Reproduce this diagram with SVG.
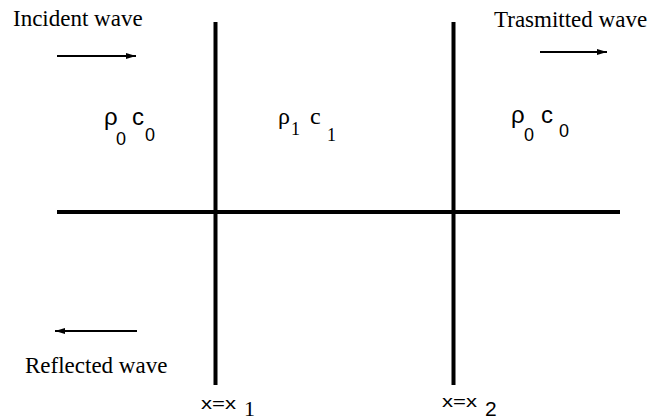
<svg xmlns="http://www.w3.org/2000/svg" width="666" height="420" viewBox="0 0 666 420">
<defs>
<style>
.bar{stroke:#000;stroke-width:4;fill:none}
.arr{stroke:#000;stroke-width:1.8;fill:none}
.lbl{font-family:"Liberation Serif","Times New Roman",serif;font-size:23px;fill:#000}
.sans{font-family:"Liberation Sans",Arial,sans-serif;fill:#000}
.serif{font-family:"Liberation Serif","Times New Roman",serif;fill:#000}
</style>
<marker id="ah" viewBox="0 0 10 6" refX="10" refY="3" markerWidth="10" markerHeight="6" markerUnits="userSpaceOnUse" orient="auto">
<path d="M0,0 L10,3 L0,6 Z" fill="#000"/>
</marker>
</defs>
<rect width="666" height="420" fill="#fff"/>
<g id="connectors">
<line class="bar" x1="215.5" y1="22" x2="215.5" y2="385"/>
<line class="bar" x1="453.5" y1="22" x2="453.5" y2="385"/>
<line class="bar" x1="57" y1="212" x2="620" y2="212"/>
<line class="arr" x1="57" y1="56" x2="136" y2="56" marker-end="url(#ah)"/>
<line class="arr" x1="540" y1="52" x2="607" y2="52" marker-end="url(#ah)"/>
<line class="arr" x1="137" y1="331" x2="55" y2="331" marker-end="url(#ah)"/>
</g>
<g id="incident"><text class="lbl" x="13" y="26">Incident wave</text></g>
<g id="transmitted"><text class="lbl" x="494" y="27">Trasmitted wave</text></g>
<g id="reflected"><text class="lbl" x="25" y="373">Reflected wave</text></g>
<g id="medium0-left">
<text class="sans" x="104" y="125" font-size="24">ρ</text>
<text class="sans" x="116" y="145" font-size="18">0</text>
<text class="sans" x="132" y="125" font-size="24">c</text>
<text class="sans" x="145" y="141" font-size="18">0</text>
</g>
<g id="medium1">
<text class="serif" x="278" y="124" font-size="24">ρ</text>
<text class="serif" x="291" y="135" font-size="18">1</text>
<text class="serif" x="310" y="124" font-size="24">c</text>
<text class="serif" x="327" y="141" font-size="18">1</text>
</g>
<g id="medium0-right">
<text class="sans" x="511" y="123" font-size="24">ρ</text>
<text class="sans" x="524" y="141" font-size="18">0</text>
<text class="sans" x="541" y="123" font-size="24">c</text>
<text class="sans" x="559" y="137" font-size="18">0</text>
</g>
<g id="x1">
<text class="sans" x="201" y="409" font-size="17" textLength="35" lengthAdjust="spacingAndGlyphs">x=x</text>
<text class="serif" x="244" y="416" font-size="22">1</text>
</g>
<g id="x2">
<text class="sans" x="442" y="407" font-size="17" textLength="35" lengthAdjust="spacingAndGlyphs">x=x</text>
<text class="sans" x="485" y="416" font-size="21">2</text>
</g>
</svg>
